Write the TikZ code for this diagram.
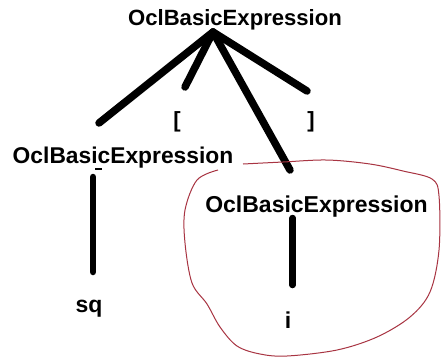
\documentclass[tikz,border=0pt]{standalone}
\usepackage{fontspec}
\setmainfont{Liberation Sans}
\definecolor{loopred}{RGB}{168,52,66}
\begin{document}
\begin{tikzpicture}[x=1pt,y=-1pt,
  lbl/.style={anchor=base,inner sep=0pt,font=\bfseries\fontsize{#1}{#1}\selectfont},
  lbl/.default=22.8,
  branch/.style={line width=7.5pt,line cap=round},
  stem/.style={line width=6.5pt,line cap=round},
  loop/.style={draw=loopred,line width=1pt,line join=round}]
\useasboundingbox (0,0) rectangle (441,360);
\fill[white] (0,0) rectangle (441,360);

% labels
\node[lbl=22.1] (root)  at (235,25)    {OclBasicExpression};
\node[lbl]      (left)  at (123,163)   {OclBasicExpression};
\node[lbl=23]   (right) at (316.5,212) {OclBasicExpression};
\node[lbl=22]   (lbr)   at (177,127)   {[};
\node[lbl=22]   (rbr)   at (311,127)   {]};
\node[lbl=23]   (sq)    at (89,312)    {sq};
\node[lbl=23]   (ii)    at (288,328)   {i};

% branch ends
\coordinate (apex)  at (213,32);
\coordinate (toL)   at (99,123);
\coordinate (toLB)  at (185,87);
\coordinate (toR)   at (290,170);
\coordinate (toRB)  at (307,91);
\coordinate (sqTop) at (93,177);
\coordinate (sqBot) at (93,272);
\coordinate (iTop)  at (292.7,218);
\coordinate (iBot)  at (292.7,285);

\draw[branch] (apex) -- (toL);
\draw[branch] (apex) -- (toLB);
\draw[branch] (apex) -- (toR);
\draw[branch] (apex) -- (toRB);
\draw[stem] (sqTop) -- (sqBot);
\draw[stem] (iTop) -- (iBot);

% small stroke under the left label
\coordinate (dA) at (95,169);
\coordinate (dB) at (102,169);
\draw[line width=1.2pt] (dA) -- (dB);

% hand-drawn loop around the right subtree
\draw[loop] plot[smooth,tension=0.55] coordinates {
  (243,164) (283,162) (327,160) (370,164) (403,171) (432,179) (439,196)
  (439,250) (430,292) (410,317) (377,337) (337,350) (287,356) (260,354)
  (237,346) (220,327) (207,304) (192,283) (185,243) (185,210) (197,180)
  (218,170)};
\end{tikzpicture}
\end{document}
